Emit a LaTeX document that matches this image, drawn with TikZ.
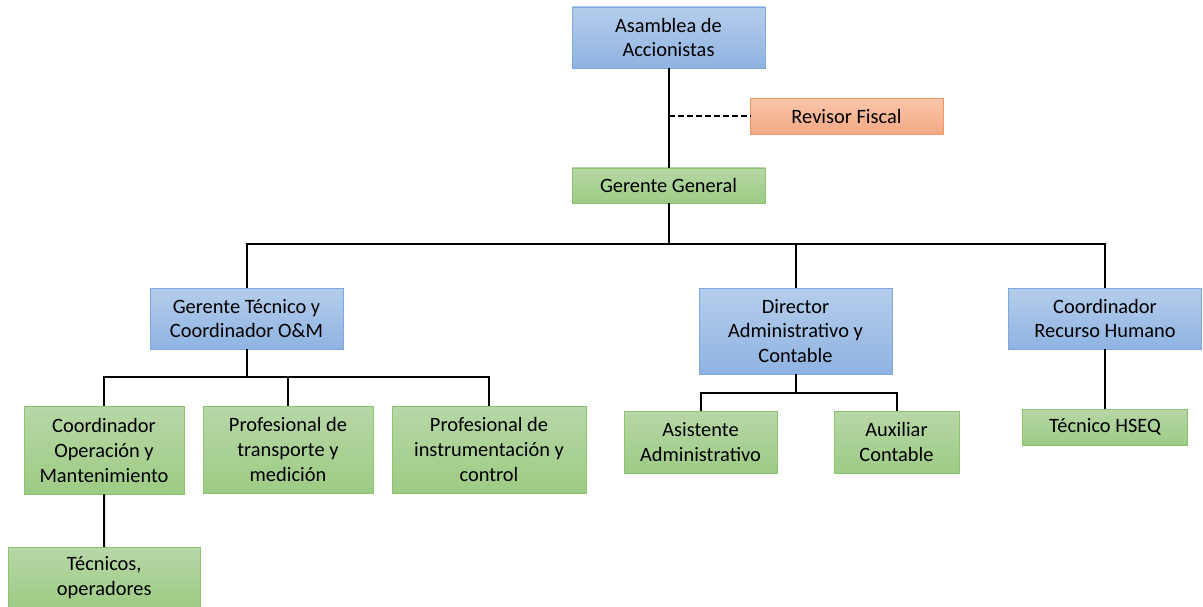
\documentclass[tikz,border=0pt]{standalone}
\usepackage{fontspec}
\setmainfont{Carlito}
\begin{document}
\begin{tikzpicture}[x=1pt,y=-1pt,
  box/.style={rectangle, inner sep=0pt, align=center, line width=0.9pt,
    font=\fontsize{20.4}{24.8}\selectfont},
  bluebox/.style={box, draw=blueedge, top color=bluetop, bottom color=bluebot},
  greenbox/.style={box, draw=greenedge, top color=greentop, bottom color=greenbot},
  orangebox/.style={box, draw=orangeedge, top color=orangetop, bottom color=orangebot},
  link/.style={line width=2pt, black},
  auditlink/.style={line width=2pt, black, dash pattern=on 6pt off 3pt}]
\definecolor{bluetop}{RGB}{181,205,235}
\definecolor{bluebot}{RGB}{143,179,226}
\definecolor{blueedge}{RGB}{128,168,220}
\definecolor{greentop}{RGB}{183,215,167}
\definecolor{greenbot}{RGB}{157,203,132}
\definecolor{greenedge}{RGB}{140,195,110}
\definecolor{orangetop}{RGB}{248,197,170}
\definecolor{orangebot}{RGB}{244,168,130}
\definecolor{orangeedge}{RGB}{241,150,100}
\useasboundingbox (0,0) rectangle (1203,607);

% top level
\node[bluebox, minimum width=193pt, minimum height=61pt] (asamblea) at (668.5,37.5) {Asamblea de\\Accionistas};
\node[orangebox, minimum width=193pt, minimum height=36pt] (revisor) at (846.5,116.5) {Revisor Fiscal};
\node[greenbox, minimum width=193pt, minimum height=35pt] (gerente) at (668.5,185.5) {Gerente General};

% second level
\node[bluebox, minimum width=193pt, minimum height=61pt] (gtec) at (246.5,318.5) {Gerente Técnico y\\Coordinador O\&M};
\node[bluebox, minimum width=193pt, minimum height=86pt] (director) at (795.5,331) {Director\\Administrativo y\\Contable};
\node[bluebox, minimum width=193pt, minimum height=61pt] (rh) at (1105,318.5) {Coordinador\\Recurso Humano};

% third level
\node[greenbox, minimum width=160pt, minimum height=87.5pt] (coordop) at (104,450.25) {Coordinador\\Operación y\\Mantenimiento};
\node[greenbox, minimum width=170pt, minimum height=86.5pt] (ptrans) at (288,449.75) {Profesional de\\transporte y\\medición};
\node[greenbox, minimum width=194pt, minimum height=86.5pt] (pinst) at (489,449.75) {Profesional de\\instrumentación y\\control};
\node[greenbox, minimum width=153pt, minimum height=61.5pt] (asist) at (700.5,442.25) {Asistente\\Administrativo};
\node[greenbox, minimum width=125pt, minimum height=61.5pt] (aux) at (896.5,442.25) {Auxiliar\\Contable};
\node[greenbox, minimum width=165pt, minimum height=36pt] (hseq) at (1105,427) {Técnico HSEQ};

% fourth level
\node[greenbox, minimum width=192.5pt, minimum height=61pt] (tecnicos) at (104.25,578) {Técnicos,\\operadores};

% junction points
\coordinate (audit) at (asamblea.south |- revisor.west);
\coordinate (busA) at (668.5,244);
\coordinate (busB) at (246.5,377);
\coordinate (busC) at (795.5,393);

% connectors
\draw[link] (asamblea.south) -- (gerente.north);
\draw[auditlink] (audit) -- (revisor.west);
\draw[link] (gerente.south) -- (busA);
\draw[link] (busA) -| (gtec.north);
\draw[link] (busA) -| (director.north);
\draw[link] (busA) -| (rh.north);
\draw[link] (gtec.south) -- (busB);
\draw[link] (busB) -| (coordop.north);
\draw[link] (busB) -| (ptrans.north);
\draw[link] (busB) -| (pinst.north);
\draw[link] (director.south) -- (busC);
\draw[link] (busC) -| (asist.north);
\draw[link] (busC) -| (aux.north);
\draw[link] (rh.south) -- (hseq.north);
\draw[link] (coordop.south) -- (tecnicos.north);
\end{tikzpicture}
\end{document}
